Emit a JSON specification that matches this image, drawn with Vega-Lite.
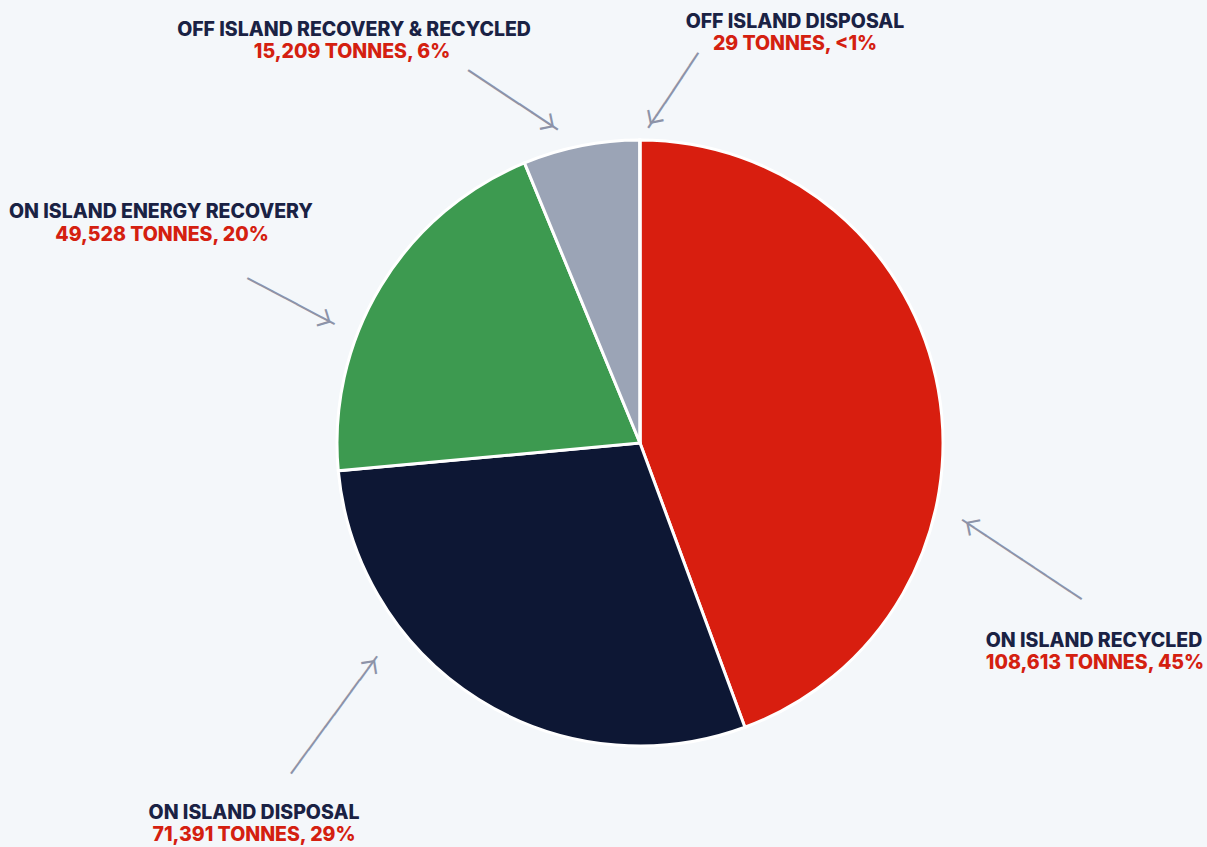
{
  "$schema": "https://vega.github.io/schema/vega-lite/v6.json",
  "width": 1134,
  "height": 808,
  "autosize": {"type": "none"},
  "padding": {"left": 73, "top": 39, "right": 0, "bottom": 0},
  "background": "#f4f7fa",
  "config": {"view": {"stroke": null}},
  "data": {
    "values": [
      {"rank": 1, "name": "ON ISLAND RECYCLED", "tonnes": 108613, "detail": "108,613 TONNES, 45%"},
      {"rank": 2, "name": "ON ISLAND DISPOSAL", "tonnes": 71391, "detail": "71,391 TONNES, 29%"},
      {"rank": 3, "name": "ON ISLAND ENERGY RECOVERY", "tonnes": 49528, "detail": "49,528 TONNES, 20%"},
      {"rank": 4, "name": "OFF ISLAND RECOVERY & RECYCLED", "tonnes": 15209, "detail": "15,209 TONNES, 6%"},
      {"rank": 5, "name": "OFF ISLAND DISPOSAL", "tonnes": 29, "detail": "29 TONNES, <1%"}
    ]
  },
  "layer": [
    {
      "mark": {"type": "arc", "radius": 303, "stroke": "white", "strokeWidth": 3},
      "encoding": {
        "theta": {"field": "tonnes", "type": "quantitative", "stack": true},
        "order": {"field": "rank", "type": "quantitative"},
        "color": {
          "field": "name",
          "type": "nominal",
          "scale": {
            "domain": ["ON ISLAND RECYCLED", "ON ISLAND DISPOSAL", "ON ISLAND ENERGY RECOVERY", "OFF ISLAND RECOVERY & RECYCLED", "OFF ISLAND DISPOSAL"],
            "range": ["#d81e0f", "#0d1734", "#3d9a50", "#9ba4b6", "#c9ced8"]
          },
          "legend": null
        }
      }
    },
    {"transform": [{"filter": "datum.rank == 1"}], "mark": {"type": "text", "font": "Inter", "fontWeight": 800, "fontSize": 19.5, "color": "#1a2244", "align": "center", "baseline": "middle", "dx": 454, "dy": 197.5}, "encoding": {"text": {"field": "name"}}},
    {"transform": [{"filter": "datum.rank == 1"}], "mark": {"type": "text", "font": "Inter", "fontWeight": 800, "fontSize": 19.5, "color": "#d42010", "align": "center", "baseline": "middle", "dx": 455, "dy": 219.5}, "encoding": {"text": {"field": "detail"}}},
    {"transform": [{"filter": "datum.rank == 2"}], "mark": {"type": "text", "font": "Inter", "fontWeight": 800, "fontSize": 19.5, "color": "#1a2244", "align": "center", "baseline": "middle", "dx": -386, "dy": 370}, "encoding": {"text": {"field": "name"}}},
    {"transform": [{"filter": "datum.rank == 2"}], "mark": {"type": "text", "font": "Inter", "fontWeight": 800, "fontSize": 19.5, "color": "#d42010", "align": "center", "baseline": "middle", "dx": -386, "dy": 392}, "encoding": {"text": {"field": "detail"}}},
    {"transform": [{"filter": "datum.rank == 3"}], "mark": {"type": "text", "font": "Inter", "fontWeight": 800, "fontSize": 19.5, "color": "#1a2244", "align": "center", "baseline": "middle", "dx": -479, "dy": -231.5}, "encoding": {"text": {"field": "name"}}},
    {"transform": [{"filter": "datum.rank == 3"}], "mark": {"type": "text", "font": "Inter", "fontWeight": 800, "fontSize": 19.5, "color": "#d42010", "align": "center", "baseline": "middle", "dx": -478, "dy": -208.5}, "encoding": {"text": {"field": "detail"}}},
    {"transform": [{"filter": "datum.rank == 4"}], "mark": {"type": "text", "font": "Inter", "fontWeight": 800, "fontSize": 19.5, "color": "#1a2244", "align": "center", "baseline": "middle", "dx": -286, "dy": -413}, "encoding": {"text": {"field": "name"}}},
    {"transform": [{"filter": "datum.rank == 4"}], "mark": {"type": "text", "font": "Inter", "fontWeight": 800, "fontSize": 19.5, "color": "#d42010", "align": "center", "baseline": "middle", "dx": -288, "dy": -391}, "encoding": {"text": {"field": "detail"}}},
    {"transform": [{"filter": "datum.rank == 5"}], "mark": {"type": "text", "font": "Inter", "fontWeight": 800, "fontSize": 19.5, "color": "#1a2244", "align": "center", "baseline": "middle", "dx": 155, "dy": -421.5}, "encoding": {"text": {"field": "name"}}},
    {"transform": [{"filter": "datum.rank == 5"}], "mark": {"type": "text", "font": "Inter", "fontWeight": 800, "fontSize": 19.5, "color": "#d42010", "align": "center", "baseline": "middle", "dx": 155, "dy": -399.5}, "encoding": {"text": {"field": "detail"}}},
    {"transform": [{"filter": "datum.rank == 1"}], "mark": {"type": "text", "text": "──────────", "font": "DejaVu Sans Mono", "fontSize": 23.8, "color": "#8d93a8", "align": "center", "baseline": "middle", "angle": 213.6, "radius": 399.6, "theta": 1.864}, "encoding": {}},
    {"transform": [{"filter": "datum.rank == 4"}], "mark": {"type": "text", "text": "───────", "font": "DejaVu Sans Mono", "fontSize": 25.4, "color": "#8d93a8", "align": "center", "baseline": "middle", "angle": 33.5, "radius": 365.5, "theta": 5.927}, "encoding": {}},
    {"transform": [{"filter": "datum.rank == 5"}], "mark": {"type": "text", "text": "──────", "font": "DejaVu Sans Mono", "fontSize": 24.9, "color": "#8d93a8", "align": "center", "baseline": "middle", "angle": 123.7, "radius": 354.9, "theta": 0.0903}, "encoding": {}},
    {"transform": [{"filter": "datum.rank == 3"}], "mark": {"type": "text", "text": "───────", "font": "DejaVu Sans Mono", "fontSize": 23.3, "color": "#8d93a8", "align": "center", "baseline": "middle", "angle": 27.9, "radius": 376.9, "theta": 5.096}, "encoding": {}},
    {"transform": [{"filter": "datum.rank == 2"}], "mark": {"type": "text", "text": "──────────", "font": "DejaVu Sans Mono", "fontSize": 24.1, "color": "#8d93a8", "align": "center", "baseline": "middle", "angle": -53.7, "radius": 409.0, "theta": 3.983}, "encoding": {}},
    {"transform": [{"filter": "datum.rank == 1"}], "mark": {"type": "text", "text": "∟", "font": "DejaVu Sans", "fontSize": 25, "color": "#8d93a8", "align": "left", "baseline": "alphabetic", "angle": 78.6, "radius": 331.8, "theta": 1.8019}, "encoding": {}},
    {"transform": [{"filter": "datum.rank == 4"}], "mark": {"type": "text", "text": "∟", "font": "DejaVu Sans", "fontSize": 25, "color": "#8d93a8", "align": "left", "baseline": "alphabetic", "angle": 258.5, "radius": 323.8, "theta": 6.024}, "encoding": {}},
    {"transform": [{"filter": "datum.rank == 5"}], "mark": {"type": "text", "text": "∟", "font": "DejaVu Sans", "fontSize": 25, "color": "#8d93a8", "align": "left", "baseline": "alphabetic", "angle": 348.7, "radius": 316.1, "theta": 0.0222}, "encoding": {}},
    {"transform": [{"filter": "datum.rank == 3"}], "mark": {"type": "text", "text": "∟", "font": "DejaVu Sans", "fontSize": 25, "color": "#8d93a8", "align": "left", "baseline": "alphabetic", "angle": 252.9, "radius": 328.0, "theta": 5.0806}, "encoding": {}},
    {"transform": [{"filter": "datum.rank == 2"}], "mark": {"type": "text", "text": "∟", "font": "DejaVu Sans", "fontSize": 25, "color": "#8d93a8", "align": "left", "baseline": "alphabetic", "angle": 171.3, "radius": 338.3, "theta": 4.0273}, "encoding": {}}
  ]
}
